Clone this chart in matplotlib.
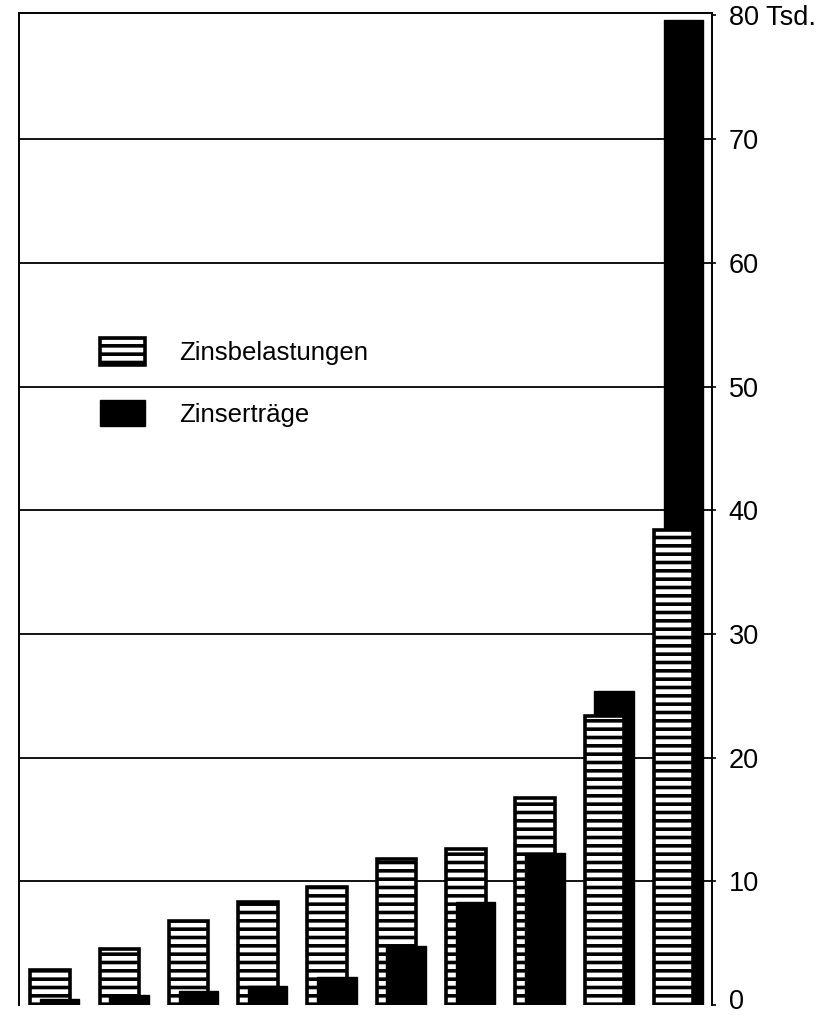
import matplotlib
matplotlib.use("Agg")
import matplotlib.pyplot as plt
import matplotlib.transforms as mtransforms
from matplotlib.patches import Patch
import numpy as np

plt.rcParams['font.family'] = ['Liberation Sans', 'DejaVu Sans']
plt.rcParams['hatch.linewidth'] = 2.6
plt.rcParams['hatch.color'] = 'black'

# Data (Tsd.)
groups = list(range(10))
zinsbelastungen = [2.8, 4.5, 6.8, 8.3, 9.5, 11.8, 12.6, 16.7, 23.4, 38.4]
zinsertraege = [0.5, 0.8, 1.1, 1.5, 2.3, 4.8, 8.3, 12.3, 25.4, 79.6]
yticks = [0, 10, 20, 30, 40, 50, 60, 70, 80]
ytick_labels = ['0', '10', '20', '30', '40', '50', '60', '70', '80 Tsd.']
series_labels = ['Zinsbelastungen', 'Zinserträge']

W, H = 823, 1016
fig = plt.figure(figsize=(W / 100, H / 100), dpi=100)
ax = fig.add_axes([19 / W, 1 - 1005 / H, (712 - 19) / W, (1005 - 13) / H])

x = np.array(groups, dtype=float)
bw = 0.57
off = 0.14

hb = ax.bar(x, zinsbelastungen, width=bw, facecolor='white', edgecolor='black',
            linewidth=2.6, hatch='--')
eb = ax.bar(x + off, zinsertraege, width=bw, facecolor='black', edgecolor='black',
            linewidth=1.0)
for ph, pe, vh, ve in zip(hb, eb, zinsbelastungen, zinsertraege):
    if vh <= ve:
        ph.set_zorder(4)
        pe.set_zorder(3)
    else:
        ph.set_zorder(3)
        pe.set_zorder(4)

ax.set_xlim(-0.447, 9.553)
ax.set_ylim(0, 80.2)

for v in yticks[1:-1]:
    ax.axhline(v, color='black', linewidth=1.3, zorder=1)

ax.yaxis.tick_right()
ax.set_yticks(yticks)
ax.set_yticklabels(ytick_labels, fontsize=19.5)
ax.tick_params(axis='y', length=3, width=1.2, pad=9, colors='black')
ax.set_xticks([])

# keep the bottom "0" label fully inside the figure
lab0 = ax.get_yticklabels()[0]
lab0.set_transform(lab0.get_transform() +
                   mtransforms.ScaledTranslation(0, 6 / 100, fig.dpi_scale_trans))

for s in ['left', 'right', 'top']:
    ax.spines[s].set_linewidth(1.4)
ax.spines['bottom'].set_visible(False)

handles = [Patch(facecolor='white', edgecolor='black', hatch='--', linewidth=2.6),
           Patch(facecolor='black', edgecolor='black')]
leg = ax.legend(handles, series_labels, loc='upper left',
                bbox_to_anchor=(90 / W, 1 - 328 / H), bbox_transform=fig.transFigure,
                frameon=False, fontsize=18.5, handlelength=1.75, handleheight=1.2,
                handletextpad=1.3, labelspacing=1.35, borderaxespad=0)

fig.savefig('out.png', dpi=100)
